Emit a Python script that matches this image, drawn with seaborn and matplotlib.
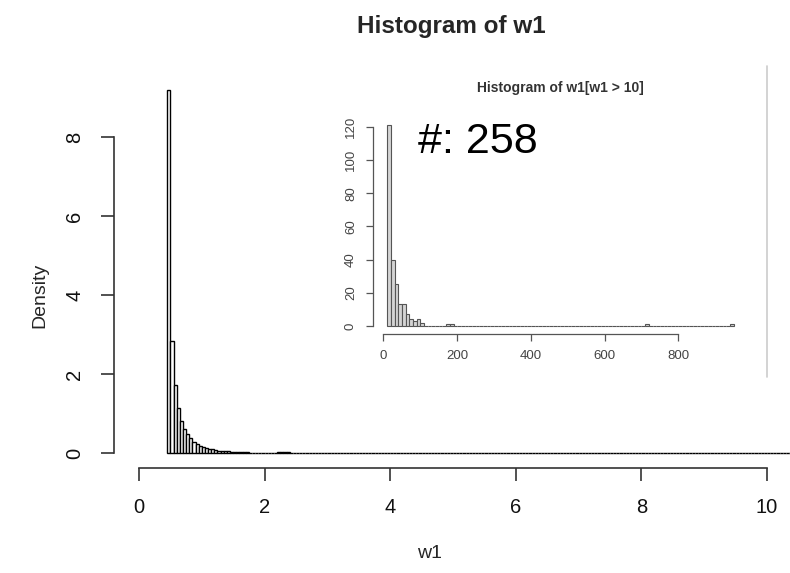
import numpy as np
import pandas as pd
import matplotlib
matplotlib.use("Agg")
import matplotlib.pyplot as plt
from matplotlib.lines import Line2D
import seaborn as sns

# ---------------- data ----------------
# main histogram: density per bin (bin width 0.05), bins start at these values
main_bin_start = [0.45, 0.50, 0.55, 0.60, 0.65, 0.70, 0.75, 0.80, 0.85, 0.90,
                  0.95, 1.00, 1.05, 1.10, 1.15, 1.20, 1.25, 1.30, 1.35, 1.40,
                  1.45, 1.50, 1.55, 1.60, 1.65, 1.70, 1.75, 1.80, 1.85, 1.90,
                  1.95, 2.00, 2.05, 2.10, 2.15, 2.20, 2.25, 2.30, 2.35]
main_density = [9.19, 2.84, 1.72, 1.13, 0.82, 0.62, 0.48, 0.38, 0.29, 0.24,
                0.19, 0.15, 0.13, 0.10, 0.09, 0.07, 0.06, 0.05, 0.045, 0.04,
                0.035, 0.03, 0.03, 0.025, 0.02, 0.015, 0.012, 0.01, 0.01, 0.008,
                0.008, 0.006, 0.006, 0.005, 0.004, 0.02, 0.02, 0.02, 0.015]
main_xticks = [0, 2, 4, 6, 8, 10]
main_yticks = [0, 2, 4, 6, 8]

# inset histogram of w1[w1 > 10]: counts per bin (bin width 10)
inset_bin_start = [10, 20, 30, 40, 50, 60, 70, 80, 90, 100, 170, 180, 710, 940]
inset_counts = [121, 40, 25, 13, 13, 7, 4, 3, 4, 2, 1, 1, 1, 1]
inset_xticks = [0, 200, 400, 600, 800]
inset_yticks = [0, 20, 40, 60, 80, 100, 120]
n_large = 258

main_title = "Histogram of w1"
inset_title = "Histogram of w1[w1 > 10]"
x_label = "w1"
y_label = "Density"

# ---------------- styling ----------------
sns.set_style("white")
plt.rcParams['font.family'] = ['Liberation Sans', 'DejaVu Sans']

W, H = 790, 573
fig = plt.figure(figsize=(W / 100, H / 100), dpi=100)
fig.patch.set_facecolor('white')

# ---------------- main histogram ----------------
ax = fig.add_axes([114 / W, (H - 468) / H, 676 / W, 392.6 / H])
ax.set_facecolor('none')
main_w = 0.05
main_edges = list(np.round(np.arange(0.45, 10.45 + 1e-9, main_w), 2))
main_df = pd.DataFrame({"w1": np.array(main_bin_start) + main_w / 2,
                        "density": main_density})
sns.histplot(data=main_df, x="w1", weights="density", bins=main_edges, stat='count',
             color='white', edgecolor='black', linewidth=1.0, alpha=1, ax=ax)
ax.set_xlim(-0.398, 10.366)
ax.set_ylim(-0.38, 9.569)
ax.set_xticks(main_xticks)
ax.set_yticks(main_yticks)
ax.set_xticklabels([str(t) for t in main_xticks])
ax.set_yticklabels([str(t) for t in main_yticks])
for s in ['top', 'right']:
    ax.spines[s].set_visible(False)
for s in ['left', 'bottom']:
    ax.spines[s].set_color('#333333')
    ax.spines[s].set_linewidth(1.2)
ax.spines['left'].set_bounds(0, 8)
ax.spines['bottom'].set_bounds(0, 10)
ax.tick_params(direction='out', length=9.4, width=1.2, color='#333333',
               labelsize=14.5, pad=12, labelcolor='#111111',
               left=True, bottom=True)
ax.tick_params(axis='y', labelrotation=90)
for lab in ax.get_yticklabels():
    lab.set_va('center')
ax.set_xlabel('')
ax.set_ylabel('')

fig.text(451.5 / W, 1 - 33.5 / H, main_title, ha='center', va='baseline',
         fontsize=17.5, fontweight='bold')
fig.text(40 / W, 1 - 295 / H, y_label, rotation=90, ha='center', va='center',
         fontsize=14)
fig.text(430 / W, 1 - 553 / H, x_label, ha='center', va='center', fontsize=14)

# ---------------- inset ----------------
ia = fig.add_axes([373.3 / W, (H - 334) / H, (747.5 - 373.3) / W, (334 - 117.1) / H])
ia.set_facecolor('none')
inset_w = 10
inset_edges = list(np.arange(10, 950 + 1e-9, inset_w))
inset_df = pd.DataFrame({"w1": np.array(inset_bin_start) + inset_w / 2,
                         "count": inset_counts})
sns.histplot(data=inset_df, x="w1", weights="count", bins=inset_edges, stat='count',
             color='#d4d4d4', edgecolor='#555555', linewidth=0.8, alpha=1, ax=ia)
ia.set_xlim(-27.6, 987.6)
ia.set_ylim(-4.84, 125.84)
ia.set_xticks(inset_xticks)
ia.set_yticks(inset_yticks)
ia.set_xticklabels([str(t) for t in inset_xticks])
ia.set_yticklabels([str(t) for t in inset_yticks])
for s in ['top', 'right']:
    ia.spines[s].set_visible(False)
for s in ['left', 'bottom']:
    ia.spines[s].set_color('#555555')
    ia.spines[s].set_linewidth(0.9)
ia.spines['left'].set_bounds(0, 120)
ia.spines['bottom'].set_bounds(0, 800)
ia.tick_params(direction='out', length=4.8, width=0.9, color='#555555',
               labelsize=9.5, pad=7, labelcolor='#444444', left=True, bottom=True)
ia.tick_params(axis='y', labelrotation=90)
for lab in ia.get_yticklabels():
    lab.set_va('center')
ia.set_xlabel('')
ia.set_ylabel('')

fig.text(560 / W, 1 - 88 / H, inset_title, ha='center', va='center',
         fontsize=10, fontweight='bold', color='#333333')
fig.text(418 / W, 1 - 153 / H, f"#: {n_large}", ha='left', va='baseline',
         fontsize=31, color='black')
fig.add_artist(Line2D([767 / W, 767 / W], [1 - 66 / H, 1 - 377 / H],
                      color='#cccccc', lw=1.2))

fig.savefig('out.png', dpi=100, facecolor='white')
